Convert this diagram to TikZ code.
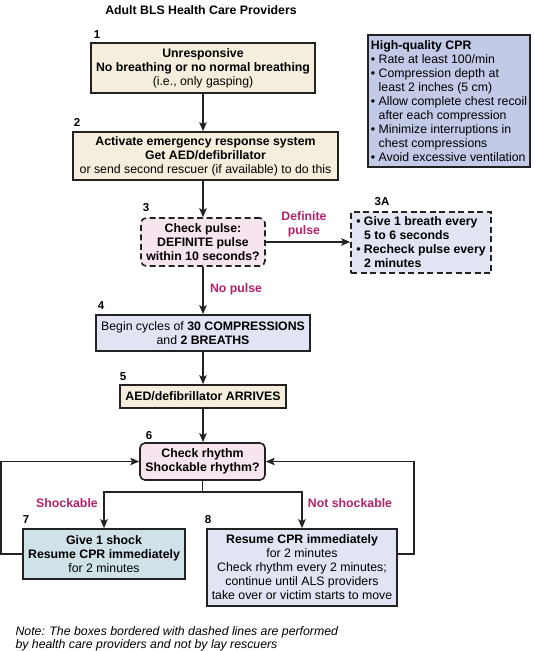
\documentclass[tikz,border=0pt]{standalone}
\usepackage{fontspec}
\setmainfont{Liberation Sans}
\usepackage{tikz}
\usetikzlibrary{arrows.meta,calc,positioning}
\usepackage{xcolor}
\definecolor{beige}{HTML}{F6EEDC}
\definecolor{pinkbox}{HTML}{F6E5EF}
\definecolor{bluebox}{HTML}{E1E5F3}
\definecolor{cprbox}{HTML}{C2CAE8}
\definecolor{tealbox}{HTML}{CEE2E7}
\definecolor{magentalbl}{HTML}{B2226C}
\definecolor{edge}{HTML}{222222}

\begin{document}
\begin{tikzpicture}[x=1pt,y=-1pt,font=\fontsize{12.3}{14}\selectfont,
  box/.style={draw=edge,line width=1.6pt,align=center,inner sep=0pt},
  dashbox/.style={box,dash pattern=on 6pt off 3.5pt},
  arr/.style={draw=edge,line width=1.4pt,-{Stealth[length=9pt,width=7.5pt,inset=2pt]}},
  num/.style={font=\fontsize{11.5}{13}\selectfont\bfseries},
  lbl/.style={font=\fontsize{12.3}{14}\selectfont\bfseries,text=magentalbl,align=center}]
\useasboundingbox (0,0) rectangle (534,651);
\node[font=\fontsize{12.3}{14}\selectfont\bfseries] (title) at (201,10) {Adult BLS Health Care Providers};
\node[box,fill=beige,minimum width=224pt,minimum height=50pt] (b1) at (203,68)
  {\textbf{Unresponsive}\\\textbf{No breathing or no normal breathing}\\(i.e., only gasping)};
\node[box,fill=beige,minimum width=265pt,minimum height=48pt] (b2) at (205.5,156)
  {\textbf{Activate emergency response system}\\\textbf{Get AED/defibrillator}\\or send second rescuer (if available) to do this};
\node[dashbox,rounded corners=5pt,fill=pinkbox,minimum width=124pt,minimum height=48pt,font=\fontsize{12.3}{14}\selectfont\bfseries] (b3) at (203,242)
  {Check pulse:\\DEFINITE pulse\\within 10 seconds?};
\node[dashbox,fill=bluebox,minimum width=140pt,minimum height=61pt,align=left,font=\fontsize{12.3}{14}\selectfont\bfseries] (b3a) at (421,242.5)
  {• Give 1 breath every\\\hphantom{• }5 to 6 seconds\\• Recheck pulse every\\\hphantom{• }2 minutes};
\node[box,fill=cprbox,minimum width=162pt,minimum height=132pt,align=left] (cpr) at (449,101)
  {\textbf{High-quality CPR}\\• Rate at least 100/min\\• Compression depth at\\\hphantom{• }least 2 inches (5 cm)\\• Allow complete chest recoil\\\hphantom{• }after each compression\\• Minimize interruptions in\\\hphantom{• }chest compressions\\• Avoid excessive ventilation};
\node[box,fill=bluebox,minimum width=214pt,minimum height=36pt] (b4) at (203,333)
  {Begin cycles of \textbf{30 COMPRESSIONS}\\and \textbf{2 BREATHS}};
\node[box,fill=beige,minimum width=166pt,minimum height=23pt,font=\fontsize{12.3}{14}\selectfont\bfseries] (b5) at (203,396.5)
  {AED/defibrillator ARRIVES};
\node[box,rounded corners=5pt,fill=pinkbox,minimum width=125pt,minimum height=37pt,font=\fontsize{12.3}{14}\selectfont\bfseries] (b6) at (202.5,461.5)
  {Check rhythm\\Shockable rhythm?};
\node[box,fill=tealbox,minimum width=162pt,minimum height=50pt] (b7) at (104,554)
  {\textbf{Give 1 shock}\\\textbf{Resume CPR immediately}\\for 2 minutes};
\node[box,fill=bluebox,minimum width=190pt,minimum height=77pt] (b8) at (302,567.5)
  {\textbf{Resume CPR immediately}\\for 2 minutes\\Check rhythm every 2 minutes;\\continue until ALS providers\\take over or victim starts to move};
\node[num] (n1) at (97,35) {1};
\node[num] (n2) at (77,122) {2};
\node[num] (n3) at (146,208) {3};
\node[num] (n3a) at (382,202) {3A};
\node[num] (n4) at (101,306) {4};
\node[num] (n5) at (123,377) {5};
\node[num] (n6) at (149,436) {6};
\node[num] (n7) at (26,520) {7};
\node[num] (n8) at (208,520) {8};
\node[lbl] (defp) at (304,224) {Definite\\pulse};
\node[lbl] (nop) at (236,289) {No pulse};
\node[lbl] (shk) at (67,503) {Shockable};
\node[lbl] (nshk) at (350,503) {Not shockable};
\coordinate (lft) at (1,0);
\coordinate (rgt) at (414,0);
\coordinate (br) at (0,492);
\draw[arr] (b1.south) -- (b1.south |- b2.north);
\draw[arr] (b2.south -| b3.north) -- (b3.north);
\draw[arr] (b3.south) -- (b4.north);
\draw[arr] (b3.east) -- (b3a.west |- b3.east);
\draw[arr] (b4.south) -- (b5.north);
\draw[arr] (b5.south) -- (b5.south |- b6.north);
\draw[arr] (b6.south) -- (b6.south |- br) -| (b7.north);
\draw[arr] (b6.south) -- (b6.south |- br) -| (b8.north);
\draw[arr] (b7.west) -| (lft |- b6.west) -- (b6.west);
\draw[arr] (b8.east |- b7.west) -| (rgt |- b6.east) -- (b6.east);
\node[anchor=north west,align=left,font=\fontsize{12.3}{13.5}\selectfont\itshape] (note) at (12,623)
  {Note: The boxes bordered with dashed lines are performed\\by health care providers and not by lay rescuers};
\end{tikzpicture}
\end{document}
